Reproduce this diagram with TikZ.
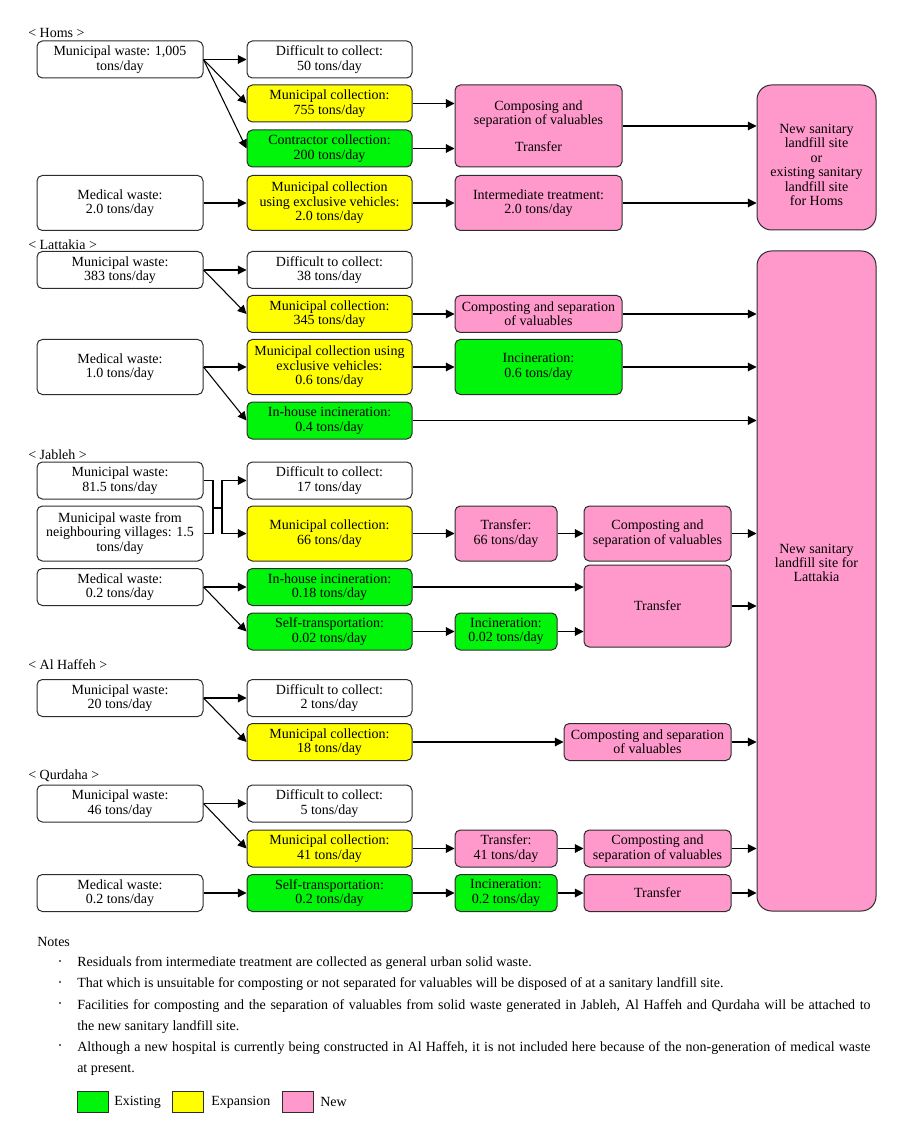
\documentclass[tikz,border=0pt]{standalone}
\usepackage{fontspec}
\setmainfont{Liberation Serif}
\usepackage{xcolor}
\usepackage{tikz}
\usetikzlibrary{arrows.meta, positioning, calc}
\definecolor{exgreen}{RGB}{0,245,10}
\definecolor{exyellow}{RGB}{255,255,0}
\definecolor{newpink}{RGB}{255,153,204}
\definecolor{edge}{RGB}{45,45,45}
\tikzstyle{box} = [draw=edge, line width=0.75pt, rounded corners=4pt, align=center, inner sep=0pt, font=\fontsize{10.5}{10.8}\selectfont]
\tikzstyle{wbox} = [box, fill=white]
\tikzstyle{ybox} = [box, fill=exyellow]
\tikzstyle{gbox} = [box, fill=exgreen]
\tikzstyle{pbox} = [box, fill=newpink]
\tikzstyle{wA} = [minimum width=124.5pt]
\tikzstyle{wB} = [minimum width=123.75pt]
\tikzstyle{wC} = [minimum width=125.25pt]
\tikzstyle{wS} = [minimum width=76.5pt]
\tikzstyle{wD} = [minimum width=110.25pt]
\tikzstyle{wL} = [minimum width=89.25pt]
\tikzstyle{lowbox} = [minimum height=27.75pt]
\tikzstyle{midbox} = [minimum height=41.25pt]
\tikzstyle{arrow} = [line width=0.8pt, -{Triangle[length=6.5pt,width=6.5pt]}]
\tikzstyle{wire} = [line width=0.8pt]
\tikzstyle{town} = [anchor=west, inner sep=0pt, font=\fontsize{10.5}{12}\selectfont]
\tikzstyle{note} = [anchor=west, inner sep=0pt, font=\fontsize{10.5}{15.75}\selectfont]
\tikzstyle{dot} = [circle, fill=black!80, inner sep=0pt, minimum size=1.8pt]
\tikzstyle{key} = [draw=edge, line width=0.75pt, minimum width=23.25pt, minimum height=15.75pt, inner sep=0pt]

\begin{document}
\begin{tikzpicture}[x=0.75pt, y=-0.75pt]
\useasboundingbox (0,0) rectangle (904,1126);

% Homs
\node[town] (homs) at (28,33) {< Homs >};
\node[wbox, wA, lowbox] (hMun) at (120,59.5) {Municipal waste: 1,005\\tons/day};
\node[wbox, wB, lowbox] (hDiff) at (329.5,59.5) {Difficult to collect:\\50 tons/day};
\node[ybox, wB, lowbox] (hColl) at (329.5,103.5) {Municipal collection:\\755 tons/day};
\node[gbox, wB, lowbox] (hCont) at (329.5,148.5) {Contractor collection:\\200 tons/day};
\node[wbox, wA, midbox] (hMed) at (120,203) {Medical waste:\\2.0 tons/day};
\node[ybox, wB, midbox] (hExcl) at (329.5,203) {Municipal collection\\using exclusive vehicles:\\2.0 tons/day};
\node[pbox, wC, minimum height=61.5pt] (hComp) at (538.5,126) {Composing and\\separation of valuables\\[9.5pt]Transfer};
\node[pbox, wC, midbox] (hInt) at (538.5,203) {Intermediate treatment:\\2.0 tons/day};
\node[pbox, wL, minimum height=108.75pt, rounded corners=11pt] (hSite) at (816.5,157.5) {};
\node[box, draw=none] (hSiteTxt) at (816.5,165) {New sanitary\\landfill site\\or\\existing sanitary\\landfill site\\for Homs};

\draw[arrow] (hMun.east) -- (hDiff.west);
\draw[arrow] (hMun.east) -- (hColl.west);
\draw[arrow] (hMun.east) -- (hCont.west);
\draw[arrow] (hColl.east) -- (hColl.east -| hComp.west);
\draw[arrow] (hCont.east) -- (hCont.east -| hComp.west);
\draw[arrow] (hComp.east) -- (hComp.east -| hSite.west);
\draw[arrow] (hMed.east) -- (hExcl.west);
\draw[arrow] (hExcl.east) -- (hInt.west);
\draw[arrow] (hInt.east) -- (hInt.east -| hSite.west);

% Lattakia
\node[town] (lattakia) at (28,245) {< Lattakia >};
\node[wbox, wA, lowbox] (lMun) at (120,270) {Municipal waste:\\383 tons/day};
\node[wbox, wB, lowbox] (lDiff) at (329.5,270) {Difficult to collect:\\38 tons/day};
\node[ybox, wB, lowbox] (lColl) at (329.5,314) {Municipal collection:\\345 tons/day};
\node[pbox, wC, lowbox] (lComp) at (538.5,314) {Composting and separation\\of valuables};
\node[wbox, wA, midbox] (lMed) at (120,367) {Medical waste:\\1.0 tons/day};
\node[ybox, wB, midbox] (lExcl) at (329.5,367) {Municipal collection using\\exclusive vehicles:\\0.6 tons/day};
\node[gbox, wC, midbox] (lInc) at (538.5,367) {Incineration:\\0.6 tons/day};
\node[gbox, wB, lowbox] (lHouse) at (329.5,420.5) {In-house incineration:\\0.4 tons/day};
\node[pbox, wL, minimum height=495pt, rounded corners=11pt] (lSite) at (816.5,581) {};
\node[box, draw=none] (lSiteTxt) at (816.5,563) {New sanitary\\landfill site for\\Lattakia};

\draw[arrow] (lMun.east) -- (lDiff.west);
\draw[arrow] (lMun.east) -- (lColl.west);
\draw[arrow] (lColl.east) -- (lComp.west);
\draw[arrow] (lComp.east) -- (lComp.east -| lSite.west);
\draw[arrow] (lMed.east) -- (lExcl.west);
\draw[arrow] (lMed.east) -- (lHouse.west);
\draw[arrow] (lExcl.east) -- (lInc.west);
\draw[arrow] (lInc.east) -- (lInc.east -| lSite.west);
\draw[arrow] (lHouse.east) -- (lHouse.east -| lSite.west);

% Jableh
\node[town] (jableh) at (28,455) {< Jableh >};
\node[wbox, wA, lowbox] (jMun) at (120,480.5) {Municipal waste:\\81.5 tons/day};
\node[wbox, wA, midbox] (jVil) at (120,533.5) {Municipal waste from\\neighbouring villages: 1.5\\tons/day};
\node[wbox, wB, lowbox] (jDiff) at (329.5,480.5) {Difficult to collect:\\17 tons/day};
\node[ybox, wB, midbox] (jColl) at (329.5,533.5) {Municipal collection:\\66 tons/day};
\node[pbox, wS, midbox] (jTran) at (506,533.5) {Transfer:\\66 tons/day};
\node[pbox, wD, midbox] (jComp) at (657.5,533.5) {Composting and\\separation of valuables};
\node[wbox, wA, lowbox] (jMed) at (120,587) {Medical waste:\\0.2 tons/day};
\node[gbox, wB, lowbox] (jHouse) at (329.5,587) {In-house incineration:\\0.18 tons/day};
\node[gbox, wB, lowbox] (jSelf) at (329.5,631.5) {Self-transportation:\\0.02 tons/day};
\node[gbox, wS, lowbox] (jInc) at (506,631.5) {Incineration:\\0.02 tons/day};
\node[pbox, wD, minimum height=61.5pt] (jTr2) at (657.5,606) {Transfer};
\coordinate (jJoin) at (213,508);
\coordinate (jFork) at (222,508);

\draw[wire] (jMun.east) -| (jJoin);
\draw[wire] (jVil.east) -| (jJoin);
\draw[wire] (jJoin) -- (jFork);
\draw[arrow] (jFork) |- (jDiff.west);
\draw[arrow] (jFork) |- (jColl.west);
\draw[arrow] (jColl.east) -- (jTran.west);
\draw[arrow] (jTran.east) -- (jComp.west);
\draw[arrow] (jComp.east) -- (jComp.east -| lSite.west);
\draw[arrow] (jMed.east) -- (jHouse.west);
\draw[arrow] (jMed.east) -- (jSelf.west);
\draw[arrow] (jHouse.east) -- (jHouse.east -| jTr2.west);
\draw[arrow] (jSelf.east) -- (jInc.west);
\draw[arrow] (jInc.east) -- (jInc.east -| jTr2.west);
\draw[arrow] (jTr2.east) -- (jTr2.east -| lSite.west);

% Al Haffeh
\node[town] (haffeh) at (28,665) {< Al Haffeh >};
\node[wbox, wA, lowbox] (aMun) at (120,698) {Municipal waste:\\20 tons/day};
\node[wbox, wB, lowbox] (aDiff) at (329.5,698) {Difficult to collect:\\2 tons/day};
\node[ybox, wB, lowbox] (aColl) at (329.5,742) {Municipal collection:\\18 tons/day};
\node[pbox, wC, lowbox] (aComp) at (647.5,742) {Composting and separation\\of valuables};

\draw[arrow] (aMun.east) -- (aDiff.west);
\draw[arrow] (aMun.east) -- (aColl.west);
\draw[arrow] (aColl.east) -- (aComp.west);
\draw[arrow] (aComp.east) -- (aComp.east -| lSite.west);

% Qurdaha
\node[town] (qurdaha) at (28,776) {< Qurdaha >};
\node[wbox, wA, lowbox] (qMun) at (120,803.5) {Municipal waste:\\46 tons/day};
\node[wbox, wB, lowbox] (qDiff) at (329.5,803.5) {Difficult to collect:\\5 tons/day};
\node[ybox, wB, lowbox] (qColl) at (329.5,848.5) {Municipal collection:\\41 tons/day};
\node[pbox, wS, lowbox] (qTran) at (506,848.5) {Transfer:\\41 tons/day};
\node[pbox, wD, lowbox] (qComp) at (657.5,848.5) {Composting and\\separation of valuables};
\node[wbox, wA, lowbox] (qMed) at (120,893) {Medical waste:\\0.2 tons/day};
\node[gbox, wB, lowbox] (qSelf) at (329.5,893) {Self-transportation:\\0.2 tons/day};
\node[gbox, wS, lowbox] (qInc) at (506,893) {Incineration:\\0.2 tons/day};
\node[pbox, wD, lowbox] (qTr2) at (657.5,893) {Transfer};

\draw[arrow] (qMun.east) -- (qDiff.west);
\draw[arrow] (qMun.east) -- (qColl.west);
\draw[arrow] (qColl.east) -- (qTran.west);
\draw[arrow] (qTran.east) -- (qComp.west);
\draw[arrow] (qComp.east) -- (qComp.east -| lSite.west);
\draw[arrow] (qMed.east) -- (qSelf.west);
\draw[arrow] (qSelf.east) -- (qInc.west);
\draw[arrow] (qInc.east) -- (qTr2.west);
\draw[arrow] (qTr2.east) -- (qTr2.east -| lSite.west);

% Notes
\node[note] (notes) at (37,942) {Notes};
\node[dot] (b1) at (60,961) {};
\node[note] (n1) at (77,963) {Residuals from intermediate treatment are collected as general urban solid waste.};
\node[dot] (b2) at (60,982) {};
\node[note] (n2) at (77,984) {That which is unsuitable for composting or not separated for valuables will be disposed of at a sanitary landfill site.};
\node[dot] (b3) at (60,1003) {};
\node[note, anchor=north west, text width=595pt, align=justify] (n3) at (77,999) {Facilities for composting and the separation of valuables from solid waste generated in Jableh, Al Haffeh and Qurdaha will be attached to\linebreak the new sanitary landfill site.};
\node[dot] (b4) at (60,1045) {};
\node[note, anchor=north west, text width=595pt, align=justify] (n4) at (77,1041) {Although a new hospital is currently being constructed in Al Haffeh, it is not included here because of the non-generation of medical waste\linebreak at present.};

% Legend
\node[key, fill=exgreen] (kGreen) at (92.5,1101.5) {};
\node[note] (lGreen) at (114,1102) {Existing};
\node[key, fill=exyellow] (kYellow) at (187.5,1101.5) {};
\node[note] (lYellow) at (211,1102) {Expansion};
\node[key, fill=newpink] (kPink) at (297.5,1101.5) {};
\node[note] (lPink) at (320,1102) {New};
\end{tikzpicture}
\end{document}
